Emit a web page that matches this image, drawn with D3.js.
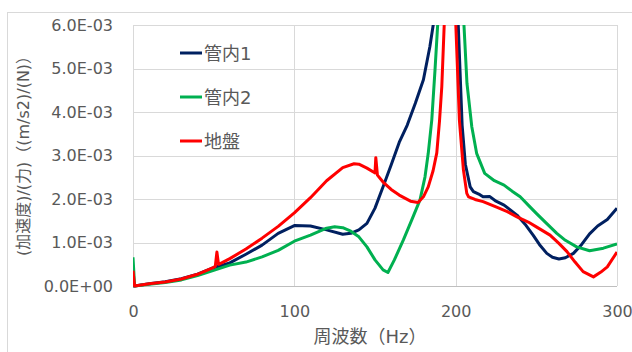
<!DOCTYPE html>
<html><head><meta charset="utf-8">
<script src="https://cdn.jsdelivr.net/npm/d3@7"></script>
<style>body{margin:0;background:#fff}</style>
</head><body>
<svg id="c" width="632" height="352"></svg>
<script>
const seriesNames = ["管内1", "管内2", "地盤"];
const seriesColors = ["#002060", "#00b050", "#ff0000"];
// values in units of 1e-3 (m/s2)/N
const f1 = [0,1,10,20,30,40,50,60,70,80,90,100,110,120,130,135,140,145,150,155,160,165,170,175,180,184,186.5,195,201.5,204,206,209,211,215,217,221,225,230,238,243,248,252,256.5,260,264,268,273,278,283,288,294,300];
const v1 = [0,0,0.05,0.10,0.17,0.27,0.42,0.53,0.73,0.94,1.21,1.39,1.38,1.29,1.19,1.21,1.29,1.44,1.79,2.28,2.78,3.30,3.70,4.20,4.74,5.50,6.10,30,6.10,3.70,2.80,2.28,2.17,2.10,2.05,2.06,1.95,1.86,1.63,1.42,1.17,0.95,0.75,0.66,0.62,0.65,0.75,0.95,1.20,1.38,1.53,1.79];
const f2 = [0,1,10,20,30,40,50,60,70,80,90,100,110,120,125,130,135,140,145,150,155,158,162,167.6,172.8,177.9,181,183,185.2,187.2,189,196,205,207,210,213,218,224,230,235,240,245,250,256,262.7,268,275,283,291.6,300];
const v2 = [0.66,0,0.04,0.08,0.14,0.24,0.36,0.48,0.55,0.67,0.82,1.03,1.17,1.33,1.36,1.34,1.26,1.13,0.90,0.60,0.37,0.31,0.60,1.06,1.52,1.98,2.51,3.05,3.82,4.97,6.10,30,6.10,4.66,3.66,3.05,2.59,2.42,2.32,2.18,2.05,1.86,1.67,1.45,1.21,1.05,0.90,0.81,0.87,0.97];
const f3 = [0,1,10,20,30,40,50,51,52,53,55,60,70,80,90,100,110,120,130,137,140,145,149,150,150.5,151.5,155,160,165,172,176.7,180,183,186,188.3,190,191.4,193,197,200,202.3,204.8,206.9,208,212,217,225,232,238,245,250,258.5,264,269,274,279,285.4,290,294,300];
const v3 = [0.35,0,0.05,0.09,0.16,0.27,0.43,0.45,0.78,0.50,0.53,0.63,0.85,1.10,1.37,1.68,2.03,2.42,2.72,2.81,2.80,2.71,2.62,2.60,2.95,2.55,2.39,2.22,2.09,1.95,1.92,2.05,2.28,2.65,3.06,3.80,4.58,6.10,30,6.10,3.82,2.67,2.13,2.05,1.99,1.94,1.82,1.71,1.59,1.47,1.36,1.17,0.98,0.79,0.55,0.33,0.21,0.32,0.44,0.78];
const xTicks = [0,100,200,300];
const yTicks = [0,1,2,3,4,5,6];

const svg = d3.select("#c");
const L = 133, R = 617, T = 25, B = 286;
const x = d3.scaleLinear().domain([0,300]).range([L,R]);
const y = d3.scaleLinear().domain([0,6]).range([B,T]);
const font = "'DejaVu Sans', 'Noto Sans CJK JP', sans-serif";
const grey = "#595959";

svg.append("rect").attr("x",7.5).attr("y",12.5).attr("width",700).attr("height",400)
  .attr("fill","none").attr("stroke","#d9d9d9");

// gridlines
svg.append("g").selectAll("line").data(yTicks.slice(1)).join("line")
  .attr("x1",L).attr("x2",R).attr("y1",d=>Math.round(y(d))+0.5).attr("y2",d=>Math.round(y(d))+0.5)
  .attr("stroke","#d9d9d9");
svg.append("g").selectAll("line").data(xTicks).join("line")
  .attr("y1",T).attr("y2",B).attr("x1",d=>Math.round(x(d))+0.5).attr("x2",d=>Math.round(x(d))+0.5)
  .attr("stroke","#d9d9d9");
svg.append("line").attr("x1",L).attr("x2",R).attr("y1",B+0.5).attr("y2",B+0.5).attr("stroke","#bfbfbf");

// axes labels
const fmt = d => { const s = (d/1000).toExponential(1).toUpperCase(); return s.replace(/E([+-])(\d)$/,"E$10$2"); };
const yAxis = d3.axisLeft(y).tickValues(yTicks).tickFormat(fmt).tickSize(0).tickPadding(20);
const gy = svg.append("g").attr("transform",`translate(${L},0)`).call(yAxis);
gy.select(".domain").remove();
gy.selectAll("text").attr("font-family",font).attr("font-size",16).attr("fill",grey);
const xAxis = d3.axisBottom(x).tickValues(xTicks).tickFormat(d3.format("d")).tickSize(0).tickPadding(20);
const gx = svg.append("g").attr("transform",`translate(0,${B})`).call(xAxis);
gx.select(".domain").remove();
gx.selectAll("text").attr("font-family",font).attr("font-size",16).attr("fill",grey);

svg.append("text").attr("x",370).attr("y",343).attr("text-anchor","middle")
  .attr("font-family",font).attr("font-size",18).attr("fill",grey).text("周波数（Hz）");
svg.append("text").attr("transform","translate(29,152) rotate(-90)").attr("text-anchor","middle")
  .attr("font-family",font).attr("font-size",16).attr("fill",grey).text("(加速度)/(力)（(m/s2)/(N)）");

// clip
svg.append("clipPath").attr("id","pc").append("rect").attr("x",L).attr("y",T).attr("width",R-L).attr("height",B-T+2);

const data = [[f1,v1],[f2,v2],[f3,v3]];
const line = d3.line().x(d=>x(d[0])).y(d=>y(d[1]));
const gl = svg.append("g").attr("clip-path","url(#pc)");
data.forEach((s,i)=>{
  const pts = s[0].map((f,j)=>[f,s[1][j]]);
  gl.append("path").datum(pts).attr("d",line).attr("fill","none")
    .attr("stroke",seriesColors[i]).attr("stroke-width",3).attr("stroke-linejoin","round");
});

// legend
const lg = svg.append("g");
seriesNames.forEach((n,i)=>{
  const yy = 53 + i*44;
  lg.append("line").attr("x1",180).attr("x2",202).attr("y1",yy).attr("y2",yy)
    .attr("stroke",seriesColors[i]).attr("stroke-width",3);
  lg.append("text").attr("x",204).attr("y",yy+6.5).attr("font-family",font).attr("font-size",18)
    .attr("fill",grey).text(n);
});
</script>
</body></html>
